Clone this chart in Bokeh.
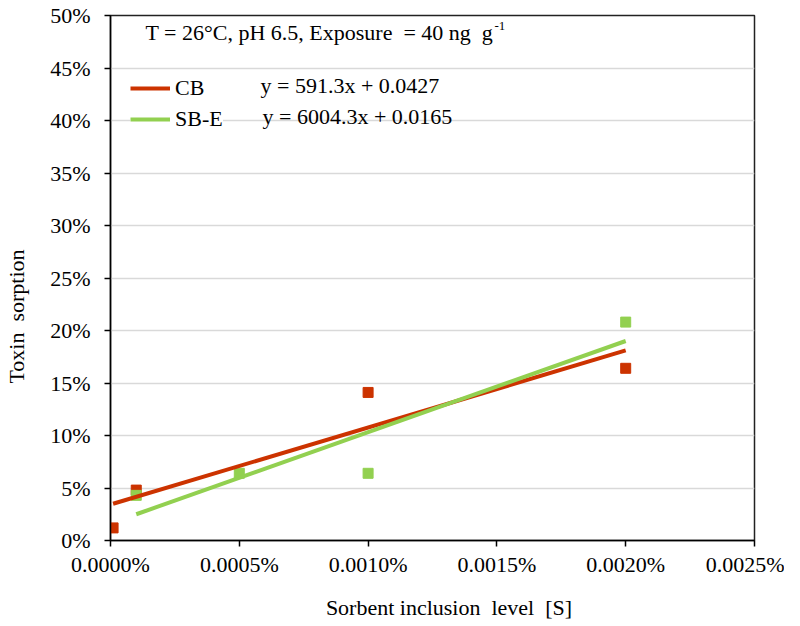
from bokeh.plotting import figure
from bokeh.models import (Range1d, FixedTicker, NumeralTickFormatter, Label,
                          Legend, LegendItem)
from bokeh.embed import file_html
from bokeh.resources import INLINE

# ---- data (x as fractions: 0.0010% -> 0.00001) ----
cb_x = [0.0000001, 0.000001, 0.00001, 0.00002]
cb_y = [0.012, 0.048, 0.141, 0.164]
sbe_x = [0.000001, 0.000005, 0.00001, 0.00002]
sbe_y = [0.043, 0.064, 0.064, 0.208]
cb_trend_x = [0.0000001, 0.00002]
cb_trend_y = [0.035, 0.181]
sbe_trend_x = [0.000001, 0.00002]
sbe_trend_y = [0.025, 0.190]
x_ticks = [0.0, 0.000005, 0.00001, 0.000015, 0.00002, 0.000025]
y_ticks = [0.0, 0.05, 0.10, 0.15, 0.20, 0.25, 0.30, 0.35, 0.40, 0.45, 0.50]
series_names = ["CB", "SB-E"]
equations = ["y = 591.3x + 0.0427", "y = 6004.3x + 0.0165"]
title_text = "T = 26°C, pH 6.5, Exposure\u00a0 = 40 ng\u00a0 g"
title_sup = "-1"
x_title = "Sorbent inclusion\u00a0 level\u00a0 [S]"
y_title = "Toxin\u00a0 sorption"

RED = "#CC3300"
GREEN = "#92D050"
FONT = "Liberation Serif"
FS = "22px"

p = figure(width=784, height=624, output_backend="svg", toolbar_location=None,
           x_range=Range1d(0, 0.000025), y_range=Range1d(0, 0.5),
           min_border_left=110, min_border_right=30, min_border_top=15,
           min_border_bottom=84)

p.background_fill_color = "white"
p.outline_line_color = "#222222"
p.outline_line_width = 1.5

p.xgrid.grid_line_color = None
p.ygrid.grid_line_color = "#D9D9D9"
p.ygrid.grid_line_width = 1.5

for ax in (p.xaxis[0], p.yaxis[0]):
    ax.axis_line_color = "black"
    ax.axis_line_width = 1.5
    ax.major_tick_line_color = "black"
    ax.major_tick_line_width = 1.5
    ax.major_tick_out = 6
    ax.major_tick_in = 0
    ax.minor_tick_line_color = None
    ax.major_label_text_font = FONT
    ax.major_label_text_font_size = FS
    ax.major_label_text_color = "black"
    ax.axis_label_text_font = FONT
    ax.axis_label_text_font_size = FS
    ax.axis_label_text_font_style = "normal"
    ax.axis_label_text_color = "black"

p.xaxis.ticker = FixedTicker(ticks=x_ticks)
p.yaxis.ticker = FixedTicker(ticks=y_ticks)
p.xaxis.formatter = NumeralTickFormatter(format="0.0000%")
p.yaxis.formatter = NumeralTickFormatter(format="0%")
p.xaxis.major_label_standoff = 5
p.yaxis.major_label_standoff = 14
# no-break spaces nudge the centred titles towards the reference position
p.xaxis.axis_label = "\u00a0" * 6 + x_title
p.yaxis.axis_label = y_title + "\u00a0" * 14
p.xaxis.axis_label_standoff = 15
p.yaxis.axis_label_standoff = 18

p.scatter(cb_x, cb_y, marker="square", size=10, fill_color=RED, line_color=RED)
p.scatter(sbe_x, sbe_y, marker="square", size=10, fill_color=GREEN, line_color=GREEN)
r_cb = p.line(cb_trend_x, cb_trend_y, line_color=RED, line_width=4)
r_sbe = p.line(sbe_trend_x, sbe_trend_y, line_color=GREEN, line_width=4)

legend = Legend(items=[LegendItem(label=series_names[0], renderers=[r_cb]),
                       LegendItem(label=series_names[1], renderers=[r_sbe])],
                location=(20, 408))
legend.border_line_color = None
legend.background_fill_color = "white"
legend.background_fill_alpha = 1.0
legend.padding = 5
legend.margin = 0
legend.spacing = 5
legend.glyph_width = 40
legend.glyph_height = 20
legend.label_height = 20
legend.label_standoff = 5
legend.label_text_font = FONT
legend.label_text_font_size = FS
legend.label_text_color = "black"
p.add_layout(legend)

def lab(x, y, text, size=FS):
    p.add_layout(Label(x=x, y=y, x_units="screen", y_units="screen", text=text,
                       text_font=FONT, text_font_size=size, text_baseline="middle",
                       text_color="black"))

lab(35, 508, title_text)
lab(384, 515, title_sup, size="13px")
lab(150, 455, equations[0])
lab(152, 424, equations[1])

open("out.html", "w").write(file_html(p, INLINE))
